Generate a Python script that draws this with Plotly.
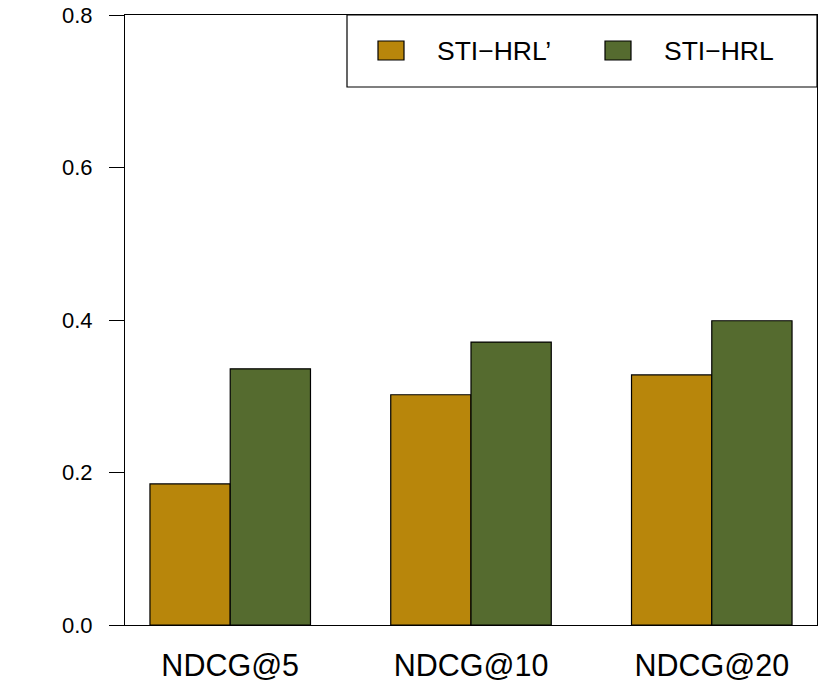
import plotly.graph_objects as go

categories = ["NDCG@5", "NDCG@10", "NDCG@20"]
series_names = ["STI\u2212HRL\u2019", "STI\u2212HRL"]
sti_hrl_prime = [0.185, 0.302, 0.328]
sti_hrl = [0.336, 0.371, 0.399]
colors = ["#B8860B", "#556B2F"]
y_ticks = [0.0, 0.2, 0.4, 0.6, 0.8]
y_tick_labels = ["0.0", "0.2", "0.4", "0.6", "0.8"]

W, H = 830, 695
L, R, T, B = 125, 13, 15, 70
PW, PH = W - L - R, H - T - B

def px(x):
    return (x - L) / PW

def py(y):
    return (H - B - y) / PH

FONT = "Liberation Sans, Arial, sans-serif"

fig = go.Figure()
for name, vals, col in zip(series_names, [sti_hrl_prime, sti_hrl], colors):
    fig.add_trace(go.Bar(
        x=categories, y=vals, name=name,
        marker=dict(color=col, line=dict(color="black", width=1.2)),
        showlegend=False, hoverinfo="skip",
    ))

shapes = [dict(type="rect", xref="paper", yref="paper",
               x0=px(347), x1=px(817), y0=py(87), y1=py(15),
               line=dict(color="black", width=1.2), fillcolor="white", layer="above")]
annotations = []
sq_x = [378, 605]
tx_x = [435, 662]
for i, (name, col) in enumerate(zip(series_names, colors)):
    shapes.append(dict(type="rect", xref="paper", yref="paper",
                       x0=px(sq_x[i]), x1=px(sq_x[i] + 26), y0=py(60), y1=py(41),
                       line=dict(color="black", width=1.2), fillcolor=col, layer="above"))
    annotations.append(dict(xref="paper", yref="paper", x=px(tx_x[i]), y=py(51),
                            text=name, showarrow=False, xanchor="left", yanchor="middle",
                            font=dict(family=FONT, size=26.5, color="black")))

fig.update_layout(
    width=W, height=H,
    margin=dict(l=L, r=R, t=T, b=B, autoexpand=False),
    plot_bgcolor="white", paper_bgcolor="white",
    barmode="group", bargap=1/3, bargroupgap=0,
    shapes=shapes, annotations=annotations,
    font=dict(family=FONT, color="black"),
)
fig.update_xaxes(
    range=[-0.437, 2.437], showgrid=False, zeroline=False, automargin=False,
    showline=True, mirror=True, linecolor="black", linewidth=1.2,
    ticks="", tickfont=dict(size=30.5, family=FONT), ticklabelstandoff=13,
)
fig.update_yaxes(
    range=[0, 0.8], showgrid=False, zeroline=False, automargin=False,
    showline=True, mirror=True, linecolor="black", linewidth=1.2,
    ticks="outside", ticklen=15, tickwidth=1.2, tickcolor="black",
    tickvals=y_ticks, ticktext=y_tick_labels,
    tickfont=dict(size=22, family=FONT), ticklabelstandoff=12,
)
fig.write_html("out.html", config={"displayModeBar": False},
               post_script="document.body.style.margin='0';")
